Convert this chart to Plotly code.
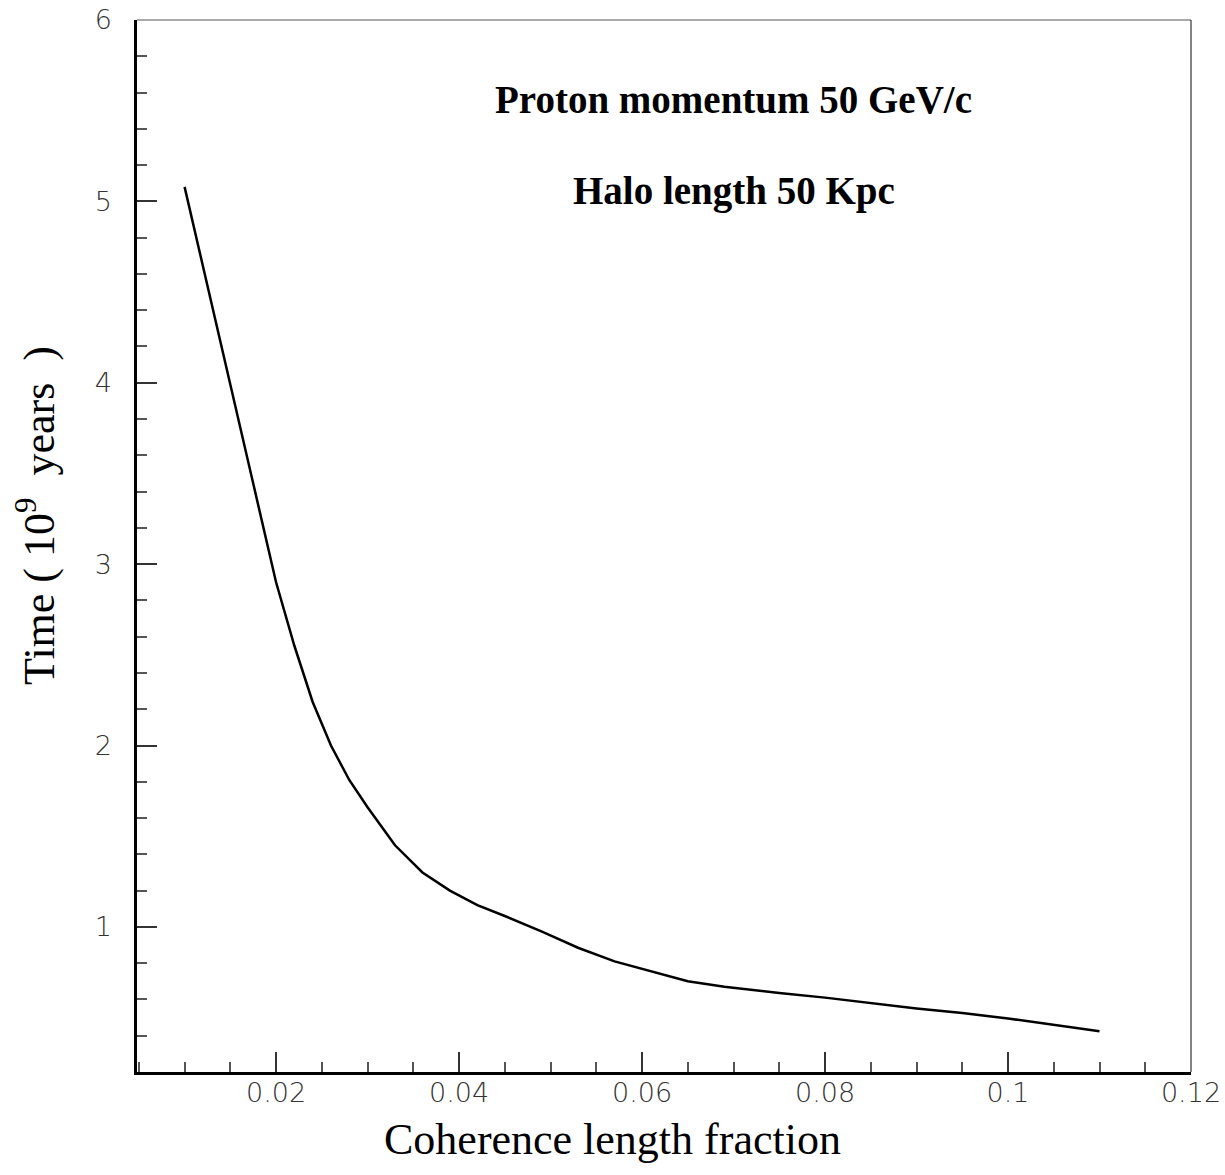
import plotly.graph_objects as go

# Data
coherence_fraction = [0.010, 0.012, 0.014, 0.016, 0.018, 0.020, 0.022, 0.024, 0.026, 0.028,
                      0.030, 0.033, 0.036, 0.039, 0.042, 0.045, 0.049, 0.053, 0.057, 0.061,
                      0.065, 0.069, 0.075, 0.080, 0.085, 0.090, 0.095, 0.100, 0.110]
time_gyr = [5.08, 4.645, 4.21, 3.78, 3.34, 2.90, 2.55, 2.24, 2.00, 1.81,
            1.66, 1.45, 1.30, 1.20, 1.12, 1.06, 0.975, 0.885, 0.81, 0.755,
            0.70, 0.67, 0.635, 0.61, 0.58, 0.55, 0.525, 0.495, 0.425]

x_tickvals = [0.02, 0.04, 0.06, 0.08, 0.10, 0.12]
x_ticktext = ["0.02", "0.04", "0.06", "0.08", "0.1", "0.12"]
y_tickvals = [1, 2, 3, 4, 5, 6]
y_ticktext = ["1", "2", "3", "4", "5", "6"]

label_1 = "Proton momentum 50 GeV/c"
label_2 = "Halo length 50 Kpc"
x_title = "Coherence length fraction"
y_title = "Time ( 10<sup>9</sup>&nbsp; years&nbsp; )"

fig = go.Figure()
fig.add_trace(go.Scatter(x=coherence_fraction, y=time_gyr, mode="lines",
                         line=dict(color="black", width=2.5), showlegend=False))

tick_font = dict(family="DejaVu Sans, Liberation Sans, sans-serif", size=27,
                 color="#333333", weight=200)
title_font = dict(family="Liberation Serif, Times New Roman, serif", size=44, color="black")
ann_font = dict(family="Liberation Serif, Times New Roman, serif", size=39, color="black")

fig.update_layout(
    width=1225, height=1175,
    margin=dict(l=137, r=34, t=20, b=103, autoexpand=False),
    plot_bgcolor="white", paper_bgcolor="white",
    xaxis=dict(
        range=[0.0048, 0.12], showgrid=False, zeroline=False, automargin=False,
        showline=True, linecolor="black", linewidth=2.5,
        tickmode="array", tickvals=x_tickvals, ticktext=x_ticktext,
        ticks="inside", ticklen=20, tickwidth=1.5, tickcolor="#333333",
        minor=dict(dtick=0.005, tick0=0, ticks="inside", ticklen=10, tickwidth=1.5, tickcolor="#555555"),
        tickfont=tick_font, ticklabelstandoff=-5,
    ),
    yaxis=dict(
        range=[0.2, 6], showgrid=False, zeroline=False, automargin=False,
        showline=True, linecolor="black", linewidth=2.5,
        tickmode="array", tickvals=y_tickvals, ticktext=y_ticktext,
        ticks="inside", ticklen=20, tickwidth=1.5, tickcolor="#333333",
        minor=dict(dtick=0.2, tick0=0, ticks="inside", ticklen=10, tickwidth=1.5, tickcolor="#555555"),
        tickfont=tick_font, ticklabelstandoff=17,
    ),
    shapes=[
        dict(type="line", xref="paper", yref="paper", x0=0, x1=1, y0=1, y1=1,
             line=dict(color="#555555", width=1.2)),
        dict(type="line", xref="paper", yref="paper", x0=1, x1=1, y0=0, y1=1,
             line=dict(color="#333333", width=1.2)),
    ],
    annotations=[
        dict(x=0.07, y=5.56, xref="x", yref="y", text="<b>" + label_1 + "</b>",
             showarrow=False, font=ann_font),
        dict(x=0.07, y=5.06, xref="x", yref="y", text="<b>" + label_2 + "</b>",
             showarrow=False, font=ann_font),
        dict(x=0.4507, y=-0.0646, xref="paper", yref="paper", text=x_title,
             xanchor="center", yanchor="middle", showarrow=False, font=title_font),
        dict(x=-0.0949, y=0.5295, xref="paper", yref="paper", text=y_title, textangle=-90,
             xanchor="center", yanchor="middle", showarrow=False, font=title_font),
    ],
)

fig.write_html("out.html", config={"displayModeBar": False},
               post_script="document.body.style.margin='0';document.body.style.overflow='hidden';")
